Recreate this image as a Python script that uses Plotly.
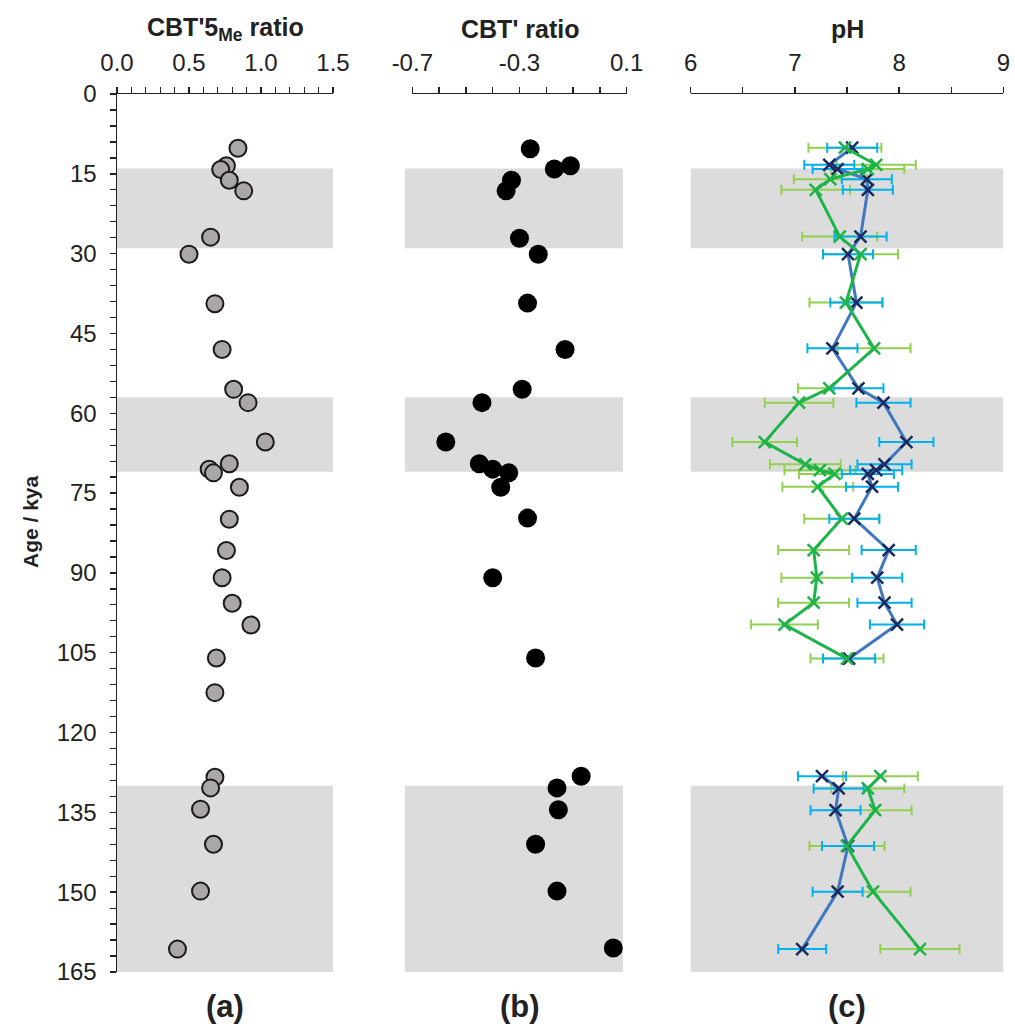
import plotly.graph_objects as go

# ---------------- data ----------------
# Panel (a): CBT'5Me ratio
age_a = [10.2, 13.5, 14.2, 16.2, 18.2, 26.9, 30.1, 39.4, 48.0, 55.5, 58.0, 65.4, 69.5, 70.5,
         71.2, 73.9, 79.9, 85.8, 90.9, 95.7, 99.8, 106.0, 112.5, 128.4, 130.4, 134.4, 141.0,
         149.8, 160.7]
cbt5me = [0.84, 0.76, 0.72, 0.78, 0.88, 0.65, 0.50, 0.68, 0.73, 0.81, 0.91, 1.03, 0.78, 0.64,
          0.67, 0.85, 0.78, 0.76, 0.73, 0.80, 0.93, 0.69, 0.68, 0.68, 0.65, 0.58, 0.67, 0.58,
          0.42]

# Panel (b): CBT' ratio
age_b = [10.3, 13.5, 14.1, 16.2, 18.2, 27.1, 30.1, 39.3, 48.0, 55.5, 58.0, 65.4, 69.5, 70.5,
         71.2, 73.9, 79.7, 90.9, 106.0, 128.2, 130.4, 134.5, 141.0, 149.8, 160.5]
cbt_prime = [-0.26, -0.11, -0.17, -0.33, -0.35, -0.30, -0.23, -0.27, -0.13, -0.29, -0.44,
             -0.575, -0.45, -0.40, -0.34, -0.37, -0.27, -0.40, -0.24, -0.07, -0.16, -0.155,
             -0.24, -0.16, 0.05]

# Panel (c): reconstructed pH (two calibrations)
age_c = [10.1, 13.3, 14.1, 16.0, 18.0, 26.8, 30.1, 39.2, 47.8, 55.3, 58.0, 65.4, 69.6, 70.7,
         71.4, 73.8, 79.8, 85.7, 90.9, 95.6, 99.7, 106.1, 128.2, 130.5, 134.6, 141.3, 149.9,
         160.7]
ph_blue = [7.55, 7.33, 7.41, 7.69, 7.70, 7.63, 7.51, 7.59, 7.36, 7.61, 7.85, 8.07, 7.86, 7.78,
           7.70, 7.74, 7.57, 7.90, 7.79, 7.86, 7.98, 7.52, 7.26, 7.42, 7.39, 7.51, 7.41, 7.07]
ph_blue_err = [0.24, 0.24, 0.24, 0.24, 0.24, 0.25, 0.24, 0.25, 0.24, 0.24, 0.26, 0.26, 0.26,
               0.25, 0.25, 0.25, 0.24, 0.26, 0.24, 0.26, 0.26, 0.25, 0.23, 0.24, 0.24, 0.25,
               0.24, 0.23]
ph_green = [7.48, 7.78, 7.70, 7.34, 7.20, 7.43, 7.63, 7.49, 7.76, 7.33, 7.04, 6.71, 7.10, 7.24,
            7.38, 7.22, 7.45, 7.18, 7.21, 7.18, 6.90, 7.50, 7.82, 7.70, 7.77, 7.50, 7.75, 8.20]
ph_green_err = [0.35, 0.38, 0.35, 0.35, 0.33, 0.36, 0.36, 0.35, 0.35, 0.30, 0.33, 0.31, 0.34,
                0.34, 0.34, 0.34, 0.36, 0.34, 0.34, 0.34, 0.32, 0.35, 0.36, 0.35, 0.35, 0.36,
                0.36, 0.38]

# Glacial periods (shaded), ka
band_start = [14, 57, 130]
band_end = [29, 71, 165]

# Axis tick labels
age_ticks = list(range(0, 166, 15))
xa_ticks = [0.0, 0.5, 1.0, 1.5]
xa_labels = ["0.0", "0.5", "1.0", "1.5"]
xb_ticks = [-0.7, -0.3, 0.1]
xb_labels = ["-0.7", "-0.3", "0.1"]
xc_ticks = [6, 7, 8, 9]
xc_labels = ["6", "7", "8", "9"]
x_ranges = {"a": [0.0, 1.5], "b": [-0.7, 0.1], "c": [6, 9]}
x_ticks = {"a": (xa_ticks, xa_labels), "b": (xb_ticks, xb_labels), "c": (xc_ticks, xc_labels)}
x_minor = {"a": 0.1, "b": 0.1, "c": 0.5}
panel_titles = ["<b>CBT'5<sub>Me</sub> ratio</b>", "<b>CBT' ratio</b>", "<b>pH</b>"]
panel_labels = ["<b>(a)</b>", "<b>(b)</b>", "<b>(c)</b>"]

# ---------------- layout helpers ----------------
W, H = 1015, 1027
FONT = "Liberation Sans, Arial, sans-serif"
TXT = "#222222"
y_top = 1 - 94 / H
y_bot = 1 - 972 / H
domains = {"a": [117 / W, 333 / W], "b": [412.3 / W, 626.7 / W], "c": [690.7 / W, 1003.3 / W]}


def gap(ages, vals):
    xs, ys = [], []
    for i, (a, v) in enumerate(zip(ages, vals)):
        if i > 0 and a - ages[i - 1] > 15:
            xs.append(None)
            ys.append(None)
        xs.append(v)
        ys.append(a)
    return xs, ys


fig = go.Figure()

# Panel (a)
fig.add_trace(go.Scatter(
    x=cbt5me, y=age_a, mode="markers", xaxis="x", yaxis="y",
    marker=dict(size=17, color="#ABA7A6", line=dict(color="#1a1a1a", width=2)),
    showlegend=False, hoverinfo="skip"))

# Panel (b)
fig.add_trace(go.Scatter(
    x=cbt_prime, y=age_b, mode="markers", xaxis="x2", yaxis="y2",
    marker=dict(size=19, color="#000000"),
    showlegend=False, hoverinfo="skip"))

# Panel (c) error bars
fig.add_trace(go.Scatter(
    x=ph_green, y=age_c, mode="markers", xaxis="x3", yaxis="y3",
    marker=dict(size=1, opacity=0),
    error_x=dict(type="data", array=ph_green_err, color="#92D050", thickness=2, width=5),
    showlegend=False, hoverinfo="skip"))
fig.add_trace(go.Scatter(
    x=ph_blue, y=age_c, mode="markers", xaxis="x3", yaxis="y3",
    marker=dict(size=1, opacity=0),
    error_x=dict(type="data", array=ph_blue_err, color="#00B0F0", thickness=2, width=5),
    showlegend=False, hoverinfo="skip"))

# Panel (c) lines
bx, by = gap(age_c, ph_blue)
gx, gy = gap(age_c, ph_green)
fig.add_trace(go.Scatter(
    x=bx, y=by, mode="lines+markers", xaxis="x3", yaxis="y3",
    line=dict(color="#3F78C0", width=3),
    marker=dict(symbol="x-thin", size=12, line=dict(color="#1B2A5E", width=2.5)),
    connectgaps=False, showlegend=False, hoverinfo="skip"))
fig.add_trace(go.Scatter(
    x=gx, y=gy, mode="lines+markers", xaxis="x3", yaxis="y3",
    line=dict(color="#1DB44A", width=3),
    marker=dict(symbol="x-thin", size=12, line=dict(color="#1DB44A", width=2.5)),
    connectgaps=False, showlegend=False, hoverinfo="skip"))

# Shaded bands
shapes = []
for xr, extra in (("x", 0.0), ("x2", 0.035), ("x3", 0.0)):
    for s, e in zip(band_start, band_end):
        shapes.append(dict(type="rect", xref=f"{xr} domain", yref="y",
                           x0=-extra, x1=1 - extra * 0.5, y0=s, y1=e,
                           fillcolor="#DCDCDC", line=dict(width=0), layer="below"))


def xaxis_main(key, anchor, show_line=True):
    tv, tt = x_ticks[key]
    return dict(
        domain=domains[key], anchor=anchor, side="top", range=x_ranges[key],
        tickvals=tv, ticktext=tt, automargin=False,
        ticks="outside", ticklen=6, tickwidth=1.5, tickcolor="#222",
        minor=dict(dtick=x_minor[key], ticks="outside", ticklen=6, tickwidth=1.3,
                   tickcolor="#222", tick0=x_ranges[key][0]),
        showline=show_line, linecolor="#222", linewidth=1.5, showgrid=False, zeroline=False,
        tickfont=dict(family=FONT, size=24, color=TXT), ticklabelstandoff=6,
        fixedrange=True)


def xaxis_overlay(key, over, anchor):
    tv, _ = x_ticks[key]
    return dict(
        domain=domains[key], anchor=anchor, overlaying=over, side="top", range=x_ranges[key],
        tickvals=tv, ticks="inside", ticklen=6, automargin=False,
        tickwidth=1.5, tickcolor="#222", showticklabels=False, showline=False,
        showgrid=False, zeroline=False, fixedrange=True)


yaxis_common = dict(domain=[y_bot, y_top], range=[165, 0], showgrid=False, zeroline=False,
                    automargin=False, fixedrange=True)

fig.update_layout(
    width=W, height=H,
    margin=dict(l=0, r=0, t=0, b=0),
    paper_bgcolor="white", plot_bgcolor="rgba(0,0,0,0)",
    hovermode=False,
    xaxis=xaxis_main("a", "y"),
    xaxis2=xaxis_main("b", "y2"),
    xaxis3=xaxis_main("c", "y3"),
    xaxis4=xaxis_overlay("a", "x", "y"),
    xaxis5=xaxis_overlay("b", "x2", "y2"),
    xaxis6=xaxis_overlay("c", "x3", "y3"),
    yaxis=dict(**yaxis_common, anchor="x", tickvals=age_ticks,
               ticks="outside", ticklen=6, tickwidth=1.5, tickcolor="#222",
               minor=dict(dtick=3, tick0=0, ticks="outside", ticklen=6, tickwidth=1.3,
                          tickcolor="#222"),
               showline=True, linecolor="#222", linewidth=1.5,
               tickfont=dict(family=FONT, size=24, color=TXT), ticklabelstandoff=8),
    yaxis4=dict(**yaxis_common, anchor="x", overlaying="y", tickvals=age_ticks,
                ticks="inside", ticklen=9, tickwidth=1.5, tickcolor="#222",
                showticklabels=False, showline=False),
    yaxis2=dict(**yaxis_common, anchor="x2", visible=False),
    yaxis3=dict(**yaxis_common, anchor="x3", visible=False),
    shapes=shapes,
)

annotations = []
for xr, t, lab in zip(("x", "x2", "x3"), panel_titles, panel_labels):
    annotations.append(dict(text=t, xref=f"{xr} domain", yref="paper", x=0.5, y=1 - 29 / H,
                            showarrow=False, xanchor="center", yanchor="middle",
                            font=dict(family=FONT, size=25, color=TXT)))
    annotations.append(dict(text=lab, xref=f"{xr} domain", yref="paper", x=0.5,
                            y=1 - 1006 / H, showarrow=False, xanchor="center",
                            yanchor="middle", font=dict(family=FONT, size=31, color=TXT)))
annotations.append(dict(text="<b>Age / kya</b>", xref="paper", yref="paper", x=30 / W,
                        y=1 - 522 / H, textangle=-90, showarrow=False, xanchor="center",
                        yanchor="middle", font=dict(family=FONT, size=21, color=TXT)))
fig.update_layout(annotations=annotations)

fig.write_html(
    "out.html",
    config={"displayModeBar": False, "staticPlot": True},
    post_script="document.body.style.margin='0';document.body.style.overflow='hidden';",
)
